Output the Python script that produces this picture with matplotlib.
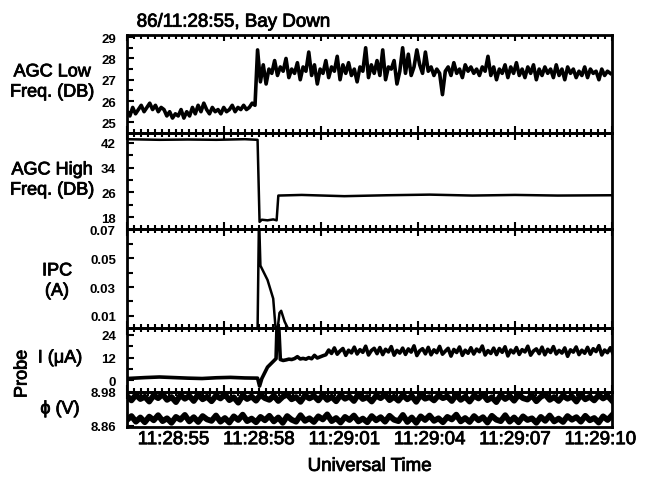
import numpy as np
import matplotlib.pyplot as plt
import matplotlib.patheffects as pe

plt.rcParams['font.family'] = ['Liberation Sans', 'DejaVu Sans']

# time axis: seconds after 11:28:55
t_min = -1.64
t_max = 15.41
time_labels = ['11:28:55', '11:28:58', '11:29:01', '11:29:04', '11:29:07', '11:29:10']
time_label_pos = [0, 3, 6, 9, 12, 15]

# AGC low freq (DB): before and after the event
agc_low_pre = [25.5, 25.3, 25.7, 25.4, 25.6, 25.8, 25.5, 25.7, 25.9, 25.6, 25.8, 25.5, 25.7, 25.6,
               25.3, 25.5, 25.2, 25.4, 25.3, 25.6, 25.2, 25.5, 25.3, 25.7, 25.4, 25.8, 25.5, 25.9,
               25.6, 25.4, 25.7, 25.5, 25.6, 25.4, 25.7, 25.5, 25.6, 25.8, 25.5, 25.7, 25.6, 25.8,
               25.6, 25.7, 25.9, 25.8]
agc_low_post = [28.4, 26.9, 27.7, 26.8, 27.5, 27.3, 27.9, 27.2, 27.6, 27.4, 28.0, 27.1, 27.5, 27.3,
                27.8, 27.0, 27.6, 27.4, 28.3, 27.2, 27.7, 26.8, 27.5, 27.3, 27.9, 27.1, 27.6, 27.4,
                28.1, 27.0, 27.7, 27.3, 27.8, 27.2, 27.5, 26.9, 27.6, 27.4, 28.5, 27.1, 27.7, 27.3,
                27.9, 27.2, 28.4, 27.0, 27.6, 27.5, 27.9, 26.8, 27.4, 28.5, 27.3, 28.2, 27.2, 27.6,
                28.4, 27.7, 27.3, 28.3, 27.4, 27.6, 27.2, 27.5, 27.3, 26.3, 27.4, 27.6, 27.2, 27.8,
                27.3, 27.5, 27.1, 27.7, 27.4, 27.6, 27.3, 27.5, 27.2, 27.6, 27.4, 28.1, 27.2, 27.6,
                27.0, 27.5, 27.3, 27.7, 27.1, 27.6, 27.3, 27.8, 27.2, 27.5, 27.1, 27.6, 27.3, 27.7,
                27.0, 27.5, 27.2, 27.6, 27.3, 27.5, 27.1, 27.7, 27.2, 27.5, 27.0, 27.6, 27.3, 27.5,
                27.1, 27.4, 27.2, 27.6, 27.1, 27.5, 27.3, 27.4, 27.0, 27.5, 27.2, 27.4, 27.3]
agc_low_pre_start = t_min
agc_low_post_start = 2.95

# AGC high freq (DB)
agc_high_t = [-1.64, -0.5, 0.5, 1.5, 2.5, 2.95, 3.02, 3.1, 3.3, 3.5, 3.62, 3.68, 4.5, 6.0,
              7.5, 9.0, 10.5, 12.0, 13.5, 15.41]
agc_high = [43.2, 43.0, 43.1, 43.0, 43.2, 43.0, 16.5, 17.2, 17.0, 17.3, 17.0, 25.0, 25.2, 24.8,
            25.1, 25.3, 25.0, 25.2, 25.0, 25.1]

# IPC (A)
ipc_t = [-1.64, 2.95, 3.0, 3.05, 3.3, 3.5, 3.58, 3.65, 3.72, 3.78, 3.9, 4.05, 15.41]
ipc = [0.0, 0.0, 0.08, 0.045, 0.035, 0.022, 0.002, 0.0, 0.012, 0.0135, 0.006, 0.0, 0.0]

# Probe I (uA)
probe_i_t = [-1.64, -1.0, -0.5, 0.0, 0.5, 1.0, 1.5, 2.0, 2.5, 2.95, 3.02, 3.1, 3.3, 3.5, 3.6,
             3.63, 3.7, 3.75, 3.85]
probe_i = [1.0, 1.5, 1.8, 1.5, 1.2, 1.0, 1.4, 1.6, 1.3, 1.2, -3.0, 1.0, 7.0, 10.0, 11.5,
           27.0, 27.0, 11.0, 10.5]
probe_i_noise = [10.8, 11.2, 11.0, 11.5, 12.5, 11.3, 11.6, 11.2, 12.0, 11.4, 13.2, 11.8, 12.4, 13.0,
                 13.5, 16.0, 14.2, 17.1, 13.8, 15.5, 16.8, 13.2, 15.9, 14.5, 17.5, 13.9, 16.2, 14.8,
                 18.0, 13.4, 15.7, 16.9, 14.1, 17.3, 13.6, 16.4, 15.0, 17.8, 13.3, 15.8, 14.4, 17.0,
                 13.7, 16.6, 14.9, 18.2, 13.1, 15.6, 16.7, 14.0, 17.4, 13.5, 16.1, 14.6, 17.9, 13.8,
                 15.4, 16.9, 12.8, 16.3, 14.7, 17.6, 13.2, 15.9, 14.3, 17.2, 13.9, 16.5, 15.1, 18.1,
                 13.4, 15.7, 14.2, 17.0, 13.6, 16.8, 14.8, 17.7, 12.9, 16.0, 14.5, 17.3, 13.7, 16.2,
                 15.0, 18.0, 13.3, 15.5, 16.6, 14.1, 17.5, 13.5, 16.4, 14.7, 17.8, 13.9, 15.8, 14.4,
                 17.1, 12.7, 16.1, 14.9, 17.6, 13.6, 15.9, 14.3, 17.4, 13.8, 16.7, 15.2, 18.3, 13.4,
                 16.0, 14.6, 17.2, 14.0]
probe_i_noise_start = 3.95

# Probe phi (V), two traces
phi_hi = [8.966, 8.950, 8.970, 8.955, 8.963, 8.946, 8.968, 8.958, 8.972, 8.952, 8.962, 8.944, 8.969,
          8.956, 8.966, 8.948, 8.971, 8.954, 8.963, 8.947, 8.967, 8.957, 8.972, 8.951, 8.961, 8.942,
          8.968, 8.955, 8.964, 8.949, 8.970, 8.958, 8.952, 8.967, 8.948, 8.963, 8.971, 8.954, 8.962,
          8.945, 8.968, 8.957, 8.966, 8.950, 8.970, 8.952, 8.963, 8.947, 8.969, 8.956, 8.964, 8.948,
          8.972, 8.955, 8.962, 8.946, 8.967, 8.958, 8.971, 8.951, 8.963, 8.949, 8.969, 8.954, 8.966,
          8.945, 8.970, 8.956, 8.962, 8.950, 8.968, 8.958, 8.964, 8.948, 8.970, 8.952, 8.963, 8.946,
          8.967, 8.957, 8.972, 8.951, 8.961, 8.944, 8.969, 8.955, 8.966, 8.949, 8.970, 8.958, 8.953,
          8.968, 8.947, 8.963, 8.971, 8.952, 8.962, 8.948, 8.967, 8.956, 8.964, 8.946, 8.970, 8.954,
          8.963, 8.950, 8.969, 8.957, 8.966, 8.949]
phi_lo = [8.880, 8.894, 8.874, 8.889, 8.872, 8.892, 8.879, 8.897, 8.876, 8.886, 8.870, 8.891, 8.881,
          8.898, 8.875, 8.890, 8.873, 8.894, 8.882, 8.877, 8.896, 8.874, 8.887, 8.871, 8.893, 8.880,
          8.899, 8.876, 8.885, 8.872, 8.891, 8.879, 8.895, 8.875, 8.889, 8.870, 8.894, 8.881, 8.874,
          8.897, 8.877, 8.886, 8.873, 8.893, 8.882, 8.900, 8.876, 8.887, 8.871, 8.891, 8.880, 8.896,
          8.875, 8.885, 8.872, 8.894, 8.879, 8.890, 8.874, 8.895, 8.881, 8.876, 8.898, 8.873, 8.889,
          8.870, 8.893, 8.880, 8.896, 8.877, 8.886, 8.872, 8.891, 8.882, 8.899, 8.875, 8.887, 8.873,
          8.894, 8.879, 8.890, 8.871, 8.895, 8.881, 8.876, 8.897, 8.874, 8.889, 8.872, 8.893, 8.880,
          8.886, 8.870, 8.891, 8.877, 8.896, 8.875, 8.885, 8.873, 8.894, 8.881, 8.890, 8.874, 8.895,
          8.879, 8.887, 8.871, 8.893, 8.880, 8.897]

dt = 0.1
t_low = np.concatenate([agc_low_pre_start + dt * np.arange(len(agc_low_pre)),
                        agc_low_post_start + dt * np.arange(len(agc_low_post))])
v_low = np.array(agc_low_pre + agc_low_post)
t_pi = np.concatenate([probe_i_t, probe_i_noise_start + dt * np.arange(len(probe_i_noise))])
v_pi = np.array(probe_i + probe_i_noise)
t_phi = np.linspace(t_min, t_max, len(phi_hi))

# slightly heavier text, like the scanned original
heavy = [pe.withStroke(linewidth=0.6, foreground='black')]

fig = plt.figure(figsize=(6.52, 4.89), dpi=100)
gs = fig.add_gridspec(5, 1, height_ratios=[98, 96, 99, 64, 35], hspace=0,
                      left=127/652, right=612/652, top=1-36/489, bottom=1-428/489)
axs = [fig.add_subplot(gs[i]) for i in range(5)]

axs[0].plot(t_low, v_low, color='black', lw=2.6)
axs[1].plot(agc_high_t, agc_high, color='black', lw=1.8)
axs[2].plot(ipc_t, ipc, color='black', lw=1.8)
axs[3].plot(t_pi, v_pi, color='black', lw=2.6)
axs[4].plot(t_phi, phi_hi, color='black', lw=4.2)
axs[4].plot(t_phi, phi_lo, color='black', lw=4.2)

ylims = [(24.5, 29.1), (14.2, 45.2), (0.0015, 0.0705), (-6.1, 27.6), (8.855, 8.98)]
yticks = [[25, 26, 27, 28, 29], [18, 26, 34, 42], [0.01, 0.03, 0.05, 0.07], [0, 12, 24], [8.86, 8.98]]
yticklabels = [['25', '26', '27', '28', '29'], ['18', '26', '34', '42'],
               ['0.01', '0.03', '0.05', '0.07'], ['0', '12', '24'], ['8.86', '8.98']]
yminor = [[25.5, 26.5, 27.5, 28.5], [22, 30, 38], [0.02, 0.04, 0.06], [6, 18], []]

major_x = np.linspace(t_min, t_max, 6)
minor_x = np.linspace(t_min, t_max, 71)

for i, ax in enumerate(axs):
    ax.set_xlim(t_min, t_max)
    ax.set_ylim(*ylims[i])
    ax.set_yticks(yticks[i])
    ax.set_yticklabels(yticklabels[i], fontsize=9.5, fontweight='bold')
    ax.set_yticks(yminor[i], minor=True)
    ax.tick_params(axis='y', which='major', direction='in', length=5, width=1.5, pad=8)
    ax.tick_params(axis='y', which='minor', direction='in', length=4, width=1.5)
    ax.set_xticks(major_x)
    ax.set_xticks(minor_x, minor=True)
    ax.tick_params(axis='x', which='both', bottom=False, labelbottom=False, top=True,
                   direction='inout', width=1.5)
    ax.tick_params(axis='x', which='major', length=10)
    ax.tick_params(axis='x', which='minor', length=6)
    for s in ax.spines.values():
        s.set_linewidth(2)
    ax.set_facecolor('none')

axs[0].tick_params(axis='x', which='both', direction='in')
axs[0].tick_params(axis='x', which='major', length=4)
axs[0].tick_params(axis='x', which='minor', length=3)
title = axs[0].set_title('86/11:28:55, Bay Down', fontsize=13.5, loc='left', x=0.02, pad=6)
title.set_path_effects(heavy)

sec = axs[4].secondary_xaxis('bottom')
sec.set_xticks(time_label_pos)
sec.set_xticklabels(time_labels, fontsize=13.5)
sec.tick_params(length=0, pad=3)
sec.spines['bottom'].set_visible(False)
for lab in sec.get_xticklabels():
    lab.set_path_effects(heavy)
xl = sec.set_xlabel('Universal Time', fontsize=13.5, labelpad=7)
xl.set_path_effects(heavy)

texts = [
    (52, 83, 'AGC Low\nFreq. (DB)', 0),
    (52, 181, 'AGC High\nFreq. (DB)', 0),
    (57, 282, 'IPC\n(A)', 0),
    (60, 359, 'I (μA)', 0),
    (60, 410, 'ϕ (V)', 0),
    (22, 375, 'Probe', 90),
]
for x, y, s, rot in texts:
    fig.text(x/652, 1-y/489, s, ha='center', va='center', fontsize=13, linespacing=1.25,
             rotation=rot, path_effects=heavy)

fig.savefig('out.png', dpi=100)
